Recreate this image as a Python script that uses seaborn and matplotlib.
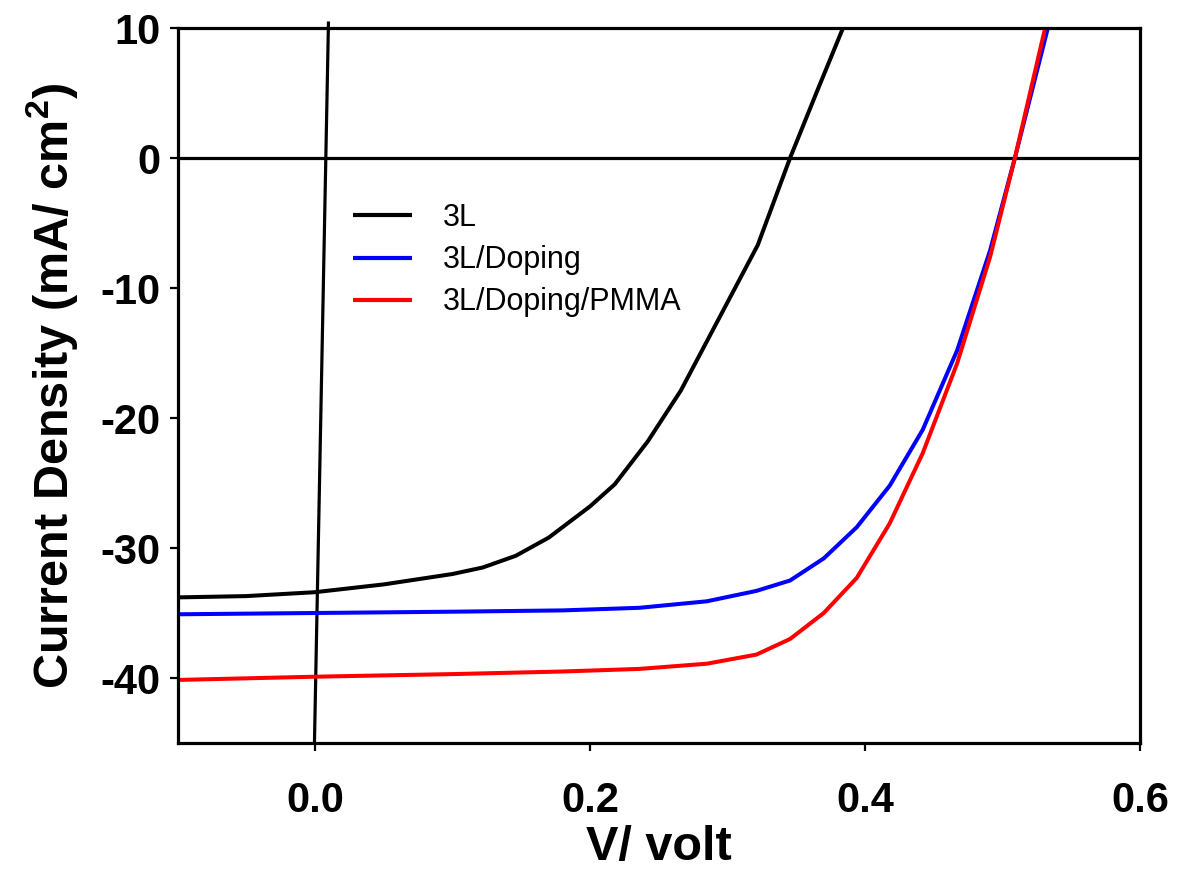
import numpy as np
import pandas as pd
import matplotlib
matplotlib.use("Agg")
import matplotlib.pyplot as plt
import seaborn as sns

# ---- data ----
series_names = ["3L", "3L/Doping", "3L/Doping/PMMA"]
series_colors = ["#000000", "#0000ff", "#ff0000"]

v_3l = [-0.10, -0.05, 0.00, 0.05, 0.10, 0.122, 0.146, 0.170, 0.200, 0.218, 0.242, 0.266,
        0.299, 0.322, 0.3455, 0.365, 0.384]
j_3l = [-33.8, -33.7, -33.4, -32.8, -32.0, -31.5, -30.6, -29.2, -26.8, -25.1, -21.8, -17.9,
        -11.3, -6.7, 0.0, 5.1, 10.0]

v_dop = [-0.10, 0.00, 0.10, 0.18, 0.236, 0.285, 0.321, 0.3455, 0.370, 0.394, 0.418, 0.442,
         0.467, 0.491, 0.509, 0.533]
j_dop = [-35.1, -35.0, -34.9, -34.8, -34.6, -34.1, -33.3, -32.5, -30.8, -28.4, -25.2, -20.9,
         -14.8, -7.1, 0.0, 10.0]

v_pmma = [-0.10, 0.00, 0.10, 0.18, 0.236, 0.285, 0.321, 0.3455, 0.370, 0.394, 0.418, 0.442,
          0.467, 0.491, 0.509, 0.531]
j_pmma = [-40.15, -39.9, -39.7, -39.5, -39.3, -38.9, -38.2, -37.0, -35.0, -32.3, -28.1, -22.7,
          -15.8, -7.6, 0.0, 10.0]

v_dark = [-0.0004, 0.0098]
j_dark = [-45.0, 10.5]

x_ticks = [0.0, 0.2, 0.4, 0.6]
x_tick_labels = ["0.0", "0.2", "0.4", "0.6"]
y_ticks = [10, 0, -10, -20, -30, -40]
y_tick_labels = ["10", "0", "-10", "-20", "-30", "-40"]

df = pd.concat([
    pd.DataFrame({"V": v_3l, "J": j_3l, "device": series_names[0]}),
    pd.DataFrame({"V": v_dop, "J": j_dop, "device": series_names[1]}),
    pd.DataFrame({"V": v_pmma, "J": j_pmma, "device": series_names[2]}),
], ignore_index=True)

sns.set_style("ticks")
plt.rcParams["font.family"] = ["Liberation Sans", "DejaVu Sans"]
plt.rcParams["mathtext.fontset"] = "custom"
plt.rcParams["mathtext.rm"] = "Liberation Sans"
plt.rcParams["mathtext.bf"] = "Liberation Sans:bold"
plt.rcParams["text.color"] = "black"
plt.rcParams["axes.labelcolor"] = "black"
plt.rcParams["xtick.color"] = "black"
plt.rcParams["ytick.color"] = "black"
plt.rcParams["lines.solid_capstyle"] = "butt"
plt.rcParams["lines.solid_joinstyle"] = "round"

fig = plt.figure(figsize=(11.89, 8.72), dpi=100)
ax = fig.add_axes([177.5 / 1189, 1 - 743 / 872, (1140 - 177.5) / 1189, (743 - 28) / 872])

lw = 2.3
ax.axhline(0, color="black", linewidth=lw, zorder=1)
sns.lineplot(x=v_dark, y=j_dark, ax=ax, color="black", linewidth=lw, legend=False,
             sort=False, estimator=None)
ax.lines[-1].set_clip_on(False)

sns.lineplot(data=df, x="V", y="J", hue="device", hue_order=series_names,
             palette=dict(zip(series_names, series_colors)), linewidth=2.9,
             sort=False, estimator=None, ax=ax)

ax.set_xlim(-0.1, 0.6)
ax.set_ylim(-45, 10)
ax.set_xticks(x_ticks)
ax.set_xticklabels(x_tick_labels)
ax.set_yticks(y_ticks)
ax.set_yticklabels(y_tick_labels)

for s in ax.spines.values():
    s.set_linewidth(lw)
    s.set_color("black")
ax.tick_params(axis="both", direction="out", length=5.5, width=1.6, color="black",
               labelsize=30, labelcolor="black")
ax.tick_params(axis="x", pad=22)
ax.tick_params(axis="y", pad=7)
for lab in ax.get_xticklabels() + ax.get_yticklabels():
    lab.set_fontweight("bold")

ax.set_xlabel("V/ volt", fontsize=35, fontweight="bold", labelpad=3, color="black")
ax.set_ylabel(r"Current Density (mA/ cm$^{\mathbf{2}}$)", fontsize=35,
              fontweight="bold", labelpad=14, color="black")

handles, labels = ax.get_legend_handles_labels()
leg = ax.legend(handles, labels, loc="upper left",
                bbox_to_anchor=((353 - 177.5) / 962.5, (743 - 203) / 715),
                frameon=False, fontsize=22, handlelength=1.93,
                handletextpad=1.0, labelspacing=0.4, borderpad=0,
                borderaxespad=0)
for h in leg.get_lines():
    h.set_linewidth(3)
for t in leg.get_texts():
    t.set_color("black")

fig.savefig("out.png", dpi=100, facecolor="white")
